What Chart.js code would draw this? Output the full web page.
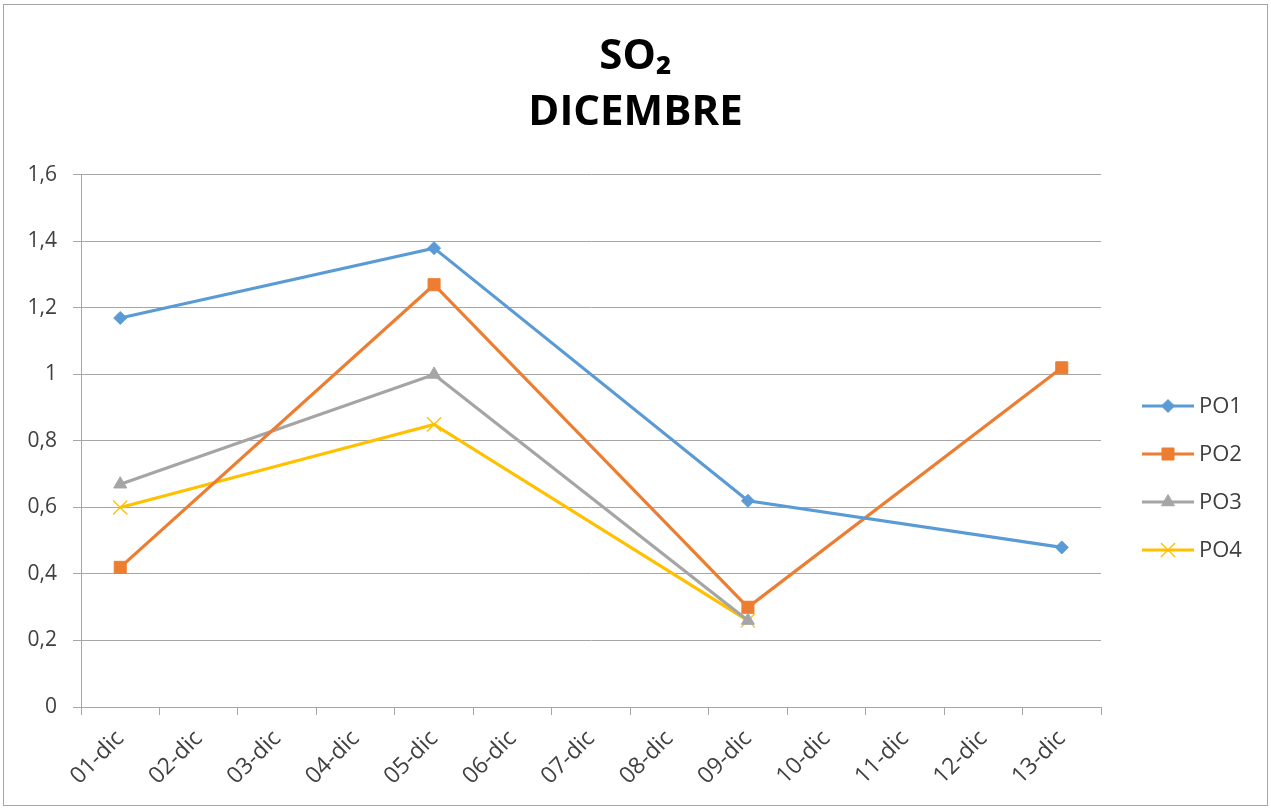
<!DOCTYPE html>
<html>
<head>
<meta charset="utf-8">
<script src="https://cdn.jsdelivr.net/npm/chart.js@4/dist/chart.umd.min.js"></script>
<style>
html,body{margin:0;padding:0;background:#fff;}
#wrap{position:absolute;left:3px;top:4px;width:1265px;height:802px;border:1px solid #a6a6a6;box-sizing:border-box;}
#c{position:absolute;left:0;top:0;}
</style>
</head>
<body>
<div id="wrap"></div>
<canvas id="c" width="1271" height="810"></canvas>
<script>
const categories = ['01-dic','02-dic','03-dic','04-dic','05-dic','06-dic','07-dic','08-dic','09-dic','10-dic','11-dic','12-dic','13-dic'];
const po1 = [1.17, null, null, null, 1.38, null, null, null, 0.62, null, null, null, 0.48];
const po2 = [0.42, null, null, null, 1.27, null, null, null, 0.30, null, null, null, 1.02];
const po3 = [0.67, null, null, null, 1.00, null, null, null, 0.26, null, null, null, null];
const po4 = [0.60, null, null, null, 0.85, null, null, null, 0.26, null, null, null, null];
const seriesNames = ['PO1','PO2','PO3','PO4'];
const titleLines = ['SO\u2082','DICEMBRE'];

const FONT = '"Open Sans", sans-serif';
const TXT = '#404040';
const GRID = '#a6a6a6';

const styles = [
  {color:'#5b9bd5', pointStyle:'rectRot', radius:6.5, pbw:1},
  {color:'#ed7d31', pointStyle:'rect', radius:8.5, pbw:1},
  {color:'#a5a5a5', pointStyle:'triangle', radius:7.5, pbw:1},
  {color:'#ffc000', pointStyle:'crossRot', radius:10, pbw:1.3}
];
const values = [po1, po2, po3, po4];

const datasets = values.map((v,i)=>({
  label: seriesNames[i],
  data: v,
  borderColor: styles[i].color,
  backgroundColor: styles[i].color,
  pointBackgroundColor: styles[i].color,
  pointBorderColor: styles[i].color,
  pointStyle: styles[i].pointStyle,
  pointRadius: styles[i].radius,
  pointBorderWidth: styles[i].pbw,
  borderWidth: 3.2,
  spanGaps: true,
  tension: 0,
  yAxisID: 'y'
}));

const legendPlugin = {
  id:'customLegend',
  afterDraw(chart){
    const ctx = chart.ctx;
    const x0 = 1142, x1 = 1194, tx = 1199;
    const ys = [406, 454, 502, 550];
    ctx.save();
    chart.data.datasets.forEach((ds,i)=>{
      const y = ys[i];
      ctx.strokeStyle = ds.borderColor;
      ctx.lineWidth = 3;
      ctx.beginPath(); ctx.moveTo(x0,y); ctx.lineTo(x1,y); ctx.stroke();
      ctx.fillStyle = ds.pointBackgroundColor;
      ctx.strokeStyle = ds.pointBorderColor;
      ctx.lineWidth = ds.pointBorderWidth;
      if (Chart.helpers && Chart.helpers.drawPoint) {
        Chart.helpers.drawPoint(ctx, {pointStyle: ds.pointStyle, radius: ds.pointRadius, rotation: 0, borderWidth: ds.pointBorderWidth}, (x0+x1)/2, y);
      }
      ctx.fillStyle = TXT;
      ctx.font = '22px ' + FONT;
      ctx.textAlign = 'left';
      ctx.textBaseline = 'middle';
      ctx.fillText(ds.label, tx, y+1);
    });
    ctx.restore();
  }
};

new Chart(document.getElementById('c'), {
  type:'line',
  data:{labels:categories, datasets},
  options:{
    responsive:false,
    animation:false,
    devicePixelRatio:1,
    layout:{padding:{left:0, right:0, top:0, bottom:0}},
    plugins:{
      legend:{display:false},
      tooltip:{enabled:false},
      title:{
        display:true,
        text:titleLines,
        color:'#000',
        font:{family:FONT, size:42, weight:'bold', lineHeight:1.333},
        padding:{top:29, bottom:34}
      }
    },
    scales:{
      x:{
        offset:true,
        grid:{offset:true, drawOnChartArea:false, drawTicks:true, tickLength:8, color:GRID, lineWidth:1},
        border:{color:GRID, width:1},
        ticks:{color:TXT, font:{family:FONT, size:23}, minRotation:45, maxRotation:45, autoSkip:false, padding:10},
        afterFit(scale){ scale.height = 103; }
      },
      y:{
        position:'left',
        min:0, max:1.6,
        grid:{color:GRID, lineWidth:1, tickLength:8, drawTicks:true},
        border:{color:GRID, width:1},
        ticks:{stepSize:0.2, color:TXT, font:{family:FONT, size:21}, padding:16,
          callback:(v)=> String(Math.round(v*10)/10).replace('.',',')},
        afterFit(scale){ scale.width = 81; }
      },
      yR:{
        position:'right',
        display:true,
        grid:{display:false},
        border:{display:false},
        ticks:{display:false},
        afterFit(scale){ scale.width = 170; }
      }
    }
  },
  plugins:[legendPlugin]
});
</script>
</body>
</html>
